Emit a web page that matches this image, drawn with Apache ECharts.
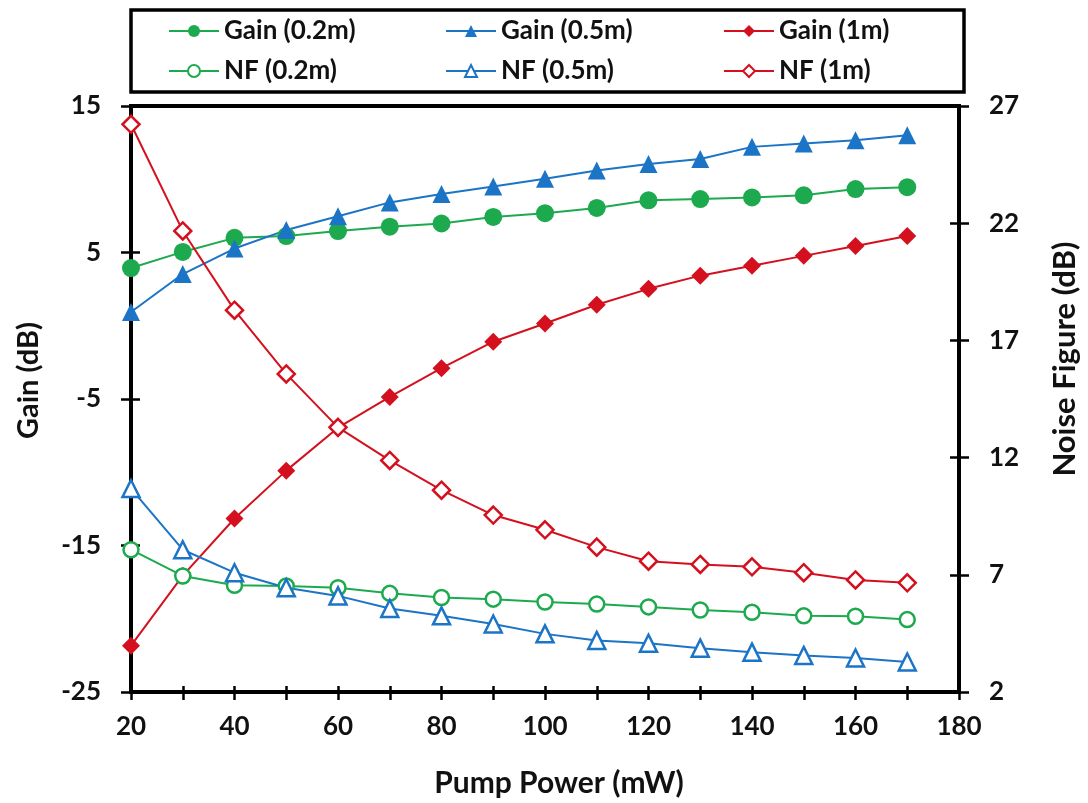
<!DOCTYPE html>
<html>
<head>
<meta charset="utf-8">
<script src="https://cdn.jsdelivr.net/npm/echarts@6/dist/echarts.min.js"></script>
<style>html,body{margin:0;padding:0;background:#fff;}#c{width:1088px;height:803px;}</style>
</head>
<body>
<div id="c"></div>
<script>
const pumpPower = [20,30,40,50,60,70,80,90,100,110,120,130,140,150,160,170];
const gain02 = [3.94,5.04,6.0,6.12,6.46,6.76,6.98,7.43,7.68,8.04,8.56,8.65,8.76,8.9,9.33,9.46];
const gain05 = [0.94,3.53,5.27,6.53,7.48,8.42,8.99,9.51,10.03,10.59,11.04,11.38,12.21,12.44,12.67,13.0];
const gain1  = [-21.84,-17.06,-13.16,-9.89,-6.96,-4.86,-2.9,-1.09,0.15,1.43,2.52,3.42,4.1,4.77,5.45,6.12];
const nf02 = [8.07,6.95,6.55,6.52,6.45,6.21,6.03,5.96,5.84,5.75,5.63,5.5,5.4,5.25,5.23,5.09];
const nf05 = [10.68,8.07,7.09,6.45,6.1,5.56,5.25,4.9,4.48,4.2,4.08,3.87,3.7,3.56,3.45,3.28];
const nf1  = [26.22,21.67,18.29,15.57,13.29,11.88,10.61,9.55,8.92,8.18,7.58,7.44,7.34,7.09,6.78,6.66];
const gainTicks = [-25,-15,-5,5,15];
const nfTicks = [2,7,12,17,22,27];

const GREEN = '#1DAA4F', BLUE = '#1B74C6', RED = '#D4101E';
const FONT = 'Lato, "Open Sans", sans-serif';
const pair = arr => pumpPower.map((x,i)=>[x,arr[i]]);

function filled(name, data, color, symbol, size){
  return {name, type:'line', yAxisIndex:0, data:pair(data), symbol, symbolSize:size,
    color, lineStyle:{color, width:2}, itemStyle:{color}};
}
function open(name, data, color, symbol, size){
  return {name, type:'line', yAxisIndex:1, data:pair(data), symbol, symbolSize:size,
    color, lineStyle:{color, width:2}, itemStyle:{color:'#fff', borderColor:color, borderWidth:2.5}};
}
const names = ['Gain (0.2m)','Gain (0.5m)','Gain (1m)','NF (0.2m)','NF (0.5m)','NF (1m)'];
const legPos = [[168,18],[445,18],[723,18],[168,58],[445,58],[723,58]];
const legends = names.map((n,i)=>({
  data:[n], left:legPos[i][0], top:legPos[i][1], itemWidth:50, itemHeight:15, itemGap:5,
  textStyle:{fontFamily:FONT, fontWeight:'bold', fontSize:26, color:'#111'}, padding:0
}));

const chart = echarts.init(document.getElementById('c'), null, {renderer:'canvas'});
const labelStyle = {fontFamily:FONT, fontWeight:'bold', fontSize:26, color:'#111'};
const titleStyle = (size, pad) => ({fontFamily:FONT, fontWeight:'bold', fontSize:size, color:'#111', padding:pad});
chart.setOption({
  animation:false,
  backgroundColor:'#fff',
  legend: legends,
  graphic:[{type:'rect', shape:{x:131, y:10, width:833, height:82}, style:{fill:'none', stroke:'#000', lineWidth:3.5}}],
  grid:{left:131, right:123, top:106, bottom:106, show:true, borderColor:'#000', borderWidth:4},
  xAxis:[
    {type:'value', min:20, max:180, interval:10, position:'bottom',
     name:'Pump Power (mW)', nameLocation:'middle', nameGap:76, nameTextStyle:titleStyle(30,[0,0,0,28]),
     axisLine:{onZero:false, lineStyle:{color:'#000', width:4}},
     axisTick:{length:8, lineStyle:{color:'#000', width:2.5}},
     axisLabel:Object.assign({margin:22, formatter:v=> v%20===0 ? String(v) : ''}, labelStyle),
     splitLine:{show:false}},
    {type:'value', min:20, max:180, interval:10, position:'bottom',
     axisLine:{show:false, onZero:false}, axisTick:{inside:true, length:6, lineStyle:{color:'#000', width:2.5}},
     axisLabel:{show:false}, splitLine:{show:false}}
  ],
  yAxis:[
    {type:'value', min:-25, max:15, position:'left',
     name:'Gain (dB)', nameLocation:'middle', nameGap:88, nameRotate:90, nameTextStyle:titleStyle(29,[0,0,0,37]),
     axisLine:{show:true, onZero:false, lineStyle:{color:'#000', width:4}},
     axisTick:{show:true, length:10, customValues:gainTicks, lineStyle:{color:'#000', width:2.5}},
     axisLabel:Object.assign({margin:30, customValues:gainTicks}, labelStyle),
     splitLine:{show:false}},
    {type:'value', min:2, max:27, position:'right',
     name:'Noise Figure (dB)', nameLocation:'middle', nameGap:90, nameRotate:90, nameTextStyle:titleStyle(31,[0,0,0,80]),
     axisLine:{show:true, onZero:false, lineStyle:{color:'#000', width:4}},
     axisTick:{show:true, length:10, customValues:nfTicks, lineStyle:{color:'#000', width:2.5}},
     axisLabel:Object.assign({margin:30, customValues:nfTicks}, labelStyle),
     splitLine:{show:false}},
    {type:'value', min:-25, max:15, position:'left',
     axisLine:{show:false, onZero:false}, axisTick:{show:true, inside:true, length:9, customValues:gainTicks, lineStyle:{color:'#000', width:2.5}},
     axisLabel:{show:false}, splitLine:{show:false}},
    {type:'value', min:2, max:27, position:'right',
     axisLine:{show:false, onZero:false}, axisTick:{show:true, inside:true, length:9, customValues:nfTicks, lineStyle:{color:'#000', width:2.5}},
     axisLabel:{show:false}, splitLine:{show:false}}
  ],
  series:[
    filled('Gain (0.2m)', gain02, GREEN, 'circle', 18),
    filled('Gain (0.5m)', gain05, BLUE, 'triangle', 18),
    filled('Gain (1m)', gain1, RED, 'diamond', 18),
    open('NF (0.2m)', nf02, GREEN, 'circle', 15),
    open('NF (0.5m)', nf05, BLUE, 'triangle', 17),
    open('NF (1m)', nf1, RED, 'diamond', 17)
  ]
});
</script>
</body>
</html>
